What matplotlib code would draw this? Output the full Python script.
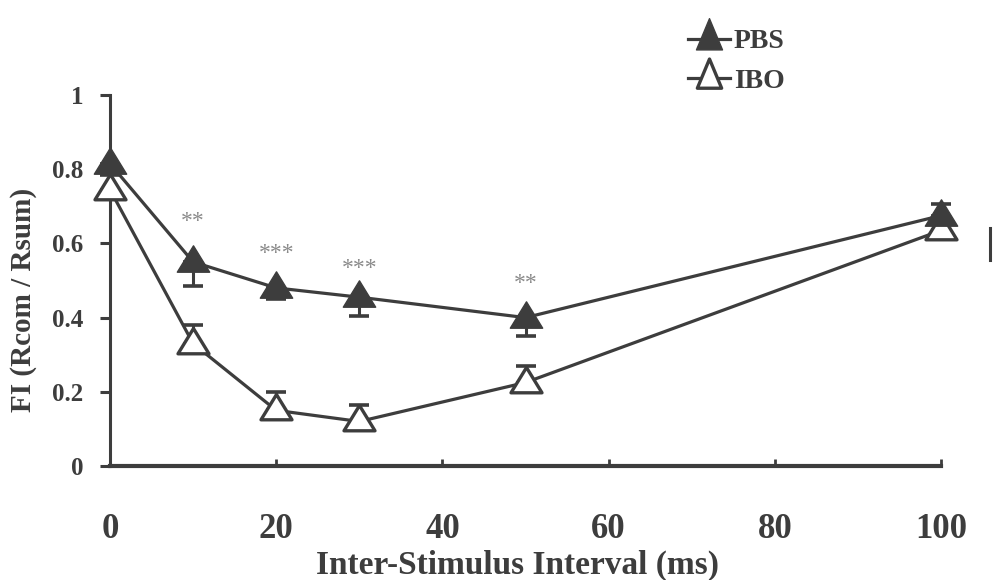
import matplotlib
matplotlib.use("Agg")
import matplotlib.pyplot as plt
from matplotlib.lines import Line2D
from matplotlib.path import Path
import numpy as np

# ---- data ----
isi = [0, 10, 20, 30, 50, 100]
pbs_mean = [0.815, 0.55, 0.48, 0.455, 0.40, 0.675]
pbs_err_lo = [0.03, 0.065, 0.03, 0.05, 0.05, 0.0]
pbs_err_hi = [0.0, 0.0, 0.0, 0.0, 0.0, 0.03]
ibo_mean = [0.745, 0.33, 0.15, 0.12, 0.225, 0.635]
ibo_err_lo = [0.0, 0.0, 0.0, 0.0, 0.0, 0.0]
ibo_err_hi = [0.045, 0.05, 0.05, 0.045, 0.045, 0.0]

sig_x = [10, 20, 30, 50]
sig_y = [0.658, 0.574, 0.531, 0.493]
sig_labels = ["**", "***", "***", "**"]

xticks = [0, 20, 40, 60, 80, 100]
xticklabels = ["0", "20", "40", "60", "80", "100"]
yticks = [0, 0.2, 0.4, 0.6, 0.8, 1.0]
yticklabels = ["0", "0.2", "0.4", "0.6", "0.8", "1"]

series_names = ["PBS", "IBO"]

# ---- style ----
dark = "#3d3d3d"
serif = "Liberation Serif"
tri = Path([(0, 1.03), (-1, -0.6), (1, -0.6), (0, 1.03)],
           [Path.MOVETO, Path.LINETO, Path.LINETO, Path.CLOSEPOLY])
tri_leg = Path([(0, 1.2), (-0.75, -0.6), (0.75, -0.6), (0, 1.2)],
               [Path.MOVETO, Path.LINETO, Path.LINETO, Path.CLOSEPOLY])

fig = plt.figure(figsize=(9.95, 5.8), dpi=100)
ax = fig.add_axes([110 / 995, 1 - 466 / 580, (941 - 110) / 995, (466 - 95) / 580])

# error bars (drawn beneath markers)
ax.errorbar(isi, pbs_mean, yerr=[pbs_err_lo, pbs_err_hi], fmt="none",
            ecolor=dark, elinewidth=2.2, capsize=7, capthick=2.6, zorder=2, clip_on=False)
ax.errorbar(isi, ibo_mean, yerr=[ibo_err_lo, ibo_err_hi], fmt="none",
            ecolor=dark, elinewidth=2.2, capsize=7, capthick=2.6, zorder=2, clip_on=False)

ax.plot(isi, pbs_mean, color=dark, lw=2.3, marker=tri, markersize=24,
        markerfacecolor=dark, markeredgecolor=dark, markeredgewidth=1.0,
        zorder=4, clip_on=False)
ax.plot(isi, ibo_mean, color=dark, lw=2.3, marker=tri, markersize=23,
        markerfacecolor="white", markeredgecolor=dark, markeredgewidth=2.4,
        zorder=3, clip_on=False)

for x, y, s in zip(sig_x, sig_y, sig_labels):
    ax.text(x, y, s, ha="center", va="center", fontsize=17, color="#8a8a8a",
            family=serif)

ax.set_xlim(0, 100)
ax.set_ylim(0, 1)

for side in ["top", "right"]:
    ax.spines[side].set_visible(False)
ax.spines["left"].set_linewidth(2.2)
ax.spines["left"].set_color(dark)
ax.spines["bottom"].set_linewidth(3.0)
ax.spines["bottom"].set_color(dark)

ax.set_xticks(xticks)
ax.set_xticklabels(xticklabels, fontsize=25, family=serif, fontweight="bold", color=dark)
ax.set_yticks(yticks)
ax.set_yticklabels(yticklabels, fontsize=18, family=serif, fontweight="bold", color=dark)
ax.tick_params(axis="x", direction="in", length=5, width=2, colors=dark, pad=34)
ax.tick_params(axis="y", direction="out", length=7, width=2.2, colors=dark, pad=12)

ax.set_xlabel("Inter-Stimulus Interval (ms)", fontsize=24, family=serif,
              fontweight="bold", color=dark)
ax.xaxis.set_label_coords(0.5 - 8 / 831, -(565 - 466) / 371)
ax.xaxis.label.set_va("center")
ax.set_ylabel("FI (Rcom / Rsum)", fontsize=21, family=serif,
              fontweight="bold", color=dark)
ax.yaxis.set_label_coords((23 - 110) / 831, (466 - 300) / 371)
ax.yaxis.label.set_va("center")

handles = [
    Line2D([], [], color=dark, lw=2.3, marker=tri_leg, markersize=30,
           markerfacecolor=dark, markeredgecolor=dark),
    Line2D([], [], color=dark, lw=2.3, marker=tri_leg, markersize=28,
           markerfacecolor="white", markeredgecolor=dark, markeredgewidth=2.4),
]
fig.legend(handles, series_names, loc="upper left",
           bbox_to_anchor=(674 / 995, 1 - 15 / 580), frameon=False,
           prop={"family": serif, "weight": "bold", "size": 20},
           handlelength=1.5, handletextpad=0.15, labelspacing=0.5,
           borderpad=0, labelcolor=dark)

# stray vertical mark on the right edge of the original figure
fig.add_artist(Line2D([990 / 995, 990 / 995], [1 - 228 / 580, 1 - 260 / 580],
                      transform=fig.transFigure, color=dark, lw=2.2))

fig.savefig("out.png", dpi=100)
